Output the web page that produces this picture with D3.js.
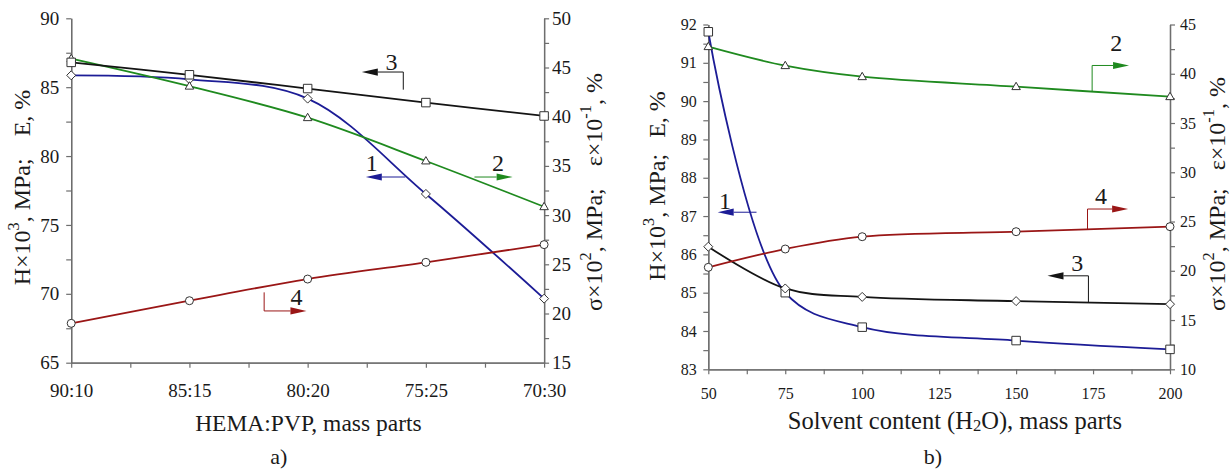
<!DOCTYPE html>
<html><head><meta charset="utf-8">
<script src="https://cdn.jsdelivr.net/npm/d3@7"></script>
<style>
html,body{margin:0;padding:0;background:#fff;}
svg{display:block;}
svg, svg text, svg tspan{font-family:"Liberation Serif","Tinos","Times New Roman","DejaVu Serif",serif !important;}
</style>
</head><body>
<script>
// ---------- DATA ----------
const catsA = ["90:10", "85:15", "80:20", "75:25", "70:30"];
const hardA = [85.86, 85.57, 84.17, 77.25, 69.65];     // curve 1, left axis (H×10³)
const epsA = [45.9, 43.1, 39.9, 35.5, 30.85];          // curve 2, right axis (ε×10⁻¹)
const elastA = [86.8, 85.9, 84.9, 83.88, 82.91];       // curve 3, left axis (E)
const sigmaA = [19.0, 21.3, 23.5, 25.2, 27.0];         // curve 4, right axis (σ×10²)

const solventB = [50, 75, 100, 150, 200];
const hardB = [91.81, 85.0, 84.1, 83.75, 83.52];       // curve 1
const epsB = [42.75, 40.82, 39.7, 38.69, 37.67];       // curve 2
const elastB = [86.2, 85.11, 84.89, 84.78, 84.7];      // curve 3
const sigmaB = [20.35, 22.21, 23.46, 23.97, 24.48];    // curve 4

const yLeftTicksA = [65, 70, 75, 80, 85, 90];
const yRightTicksA = [15, 20, 25, 30, 35, 40, 45, 50];
const yLeftTicksB = [83, 84, 85, 86, 87, 88, 89, 90, 91, 92];
const yRightTicksB = [10, 15, 20, 25, 30, 35, 40, 45];
const xTicksB = [50, 75, 100, 125, 150, 175, 200];

// ---------- STYLE ----------
const C1 = "#1c1c96", C2 = "#1f8a1f", C3 = "#141414", C4 = "#9a1616";
const AXIS = "#6e6e6e", TXT = "#1a1a1a";

const W = 1231, H = 469;
const svg = d3.select("body").append("svg").attr("width", W).attr("height", H)
  .style("background", "#fff");

function rich(sel, parts, fs) {
  let pending = 0;
  parts.forEach(p => {
    const t = sel.append("tspan").text(p.t);
    let dy = pending;
    pending = 0;
    if (p.sup) { t.attr("font-size", fs * 0.68); dy += -fs * 0.38; pending = fs * 0.38; }
    if (p.sub) { t.attr("font-size", fs * 0.68); dy += fs * 0.2; pending = -fs * 0.2; }
    if (dy) t.attr("dy", dy);
    if (p.dx) t.attr("dx", p.dx);
  });
  return sel;
}

function styleAxis(g, fs) {
  g.attr("font-family", null);
  g.select(".domain").attr("stroke", AXIS).attr("stroke-width", 1.3);
  g.selectAll(".tick line").attr("stroke", AXIS).attr("stroke-width", 1.2);
  g.selectAll(".tick text").attr("fill", TXT).attr("font-size", fs);
}

function markers(g, pts, shape, size) {
  const s = size;
  g.selectAll(null).data(pts).enter().append("path")
    .attr("transform", d => `translate(${d[0]},${d[1]})`)
    .attr("d", () => {
      if (shape === "square") return `M${-s/2},${-s/2}h${s}v${s}h${-s}Z`;
      if (shape === "diamond") return `M0,${-s/2}L${s/2},0L0,${s/2}L${-s/2},0Z`;
      if (shape === "triangle") { const h = s * 0.866; return `M0,${-h*0.6}L${s/2},${h*0.4}L${-s/2},${h*0.4}Z`; }
      return d3.symbol(d3.symbolCircle, Math.PI * (s/2) * (s/2))();
    })
    .attr("fill", "#fff").attr("stroke", "#333").attr("stroke-width", 1);
}

function arrow(g, pts, color) {
  const n = pts.length;
  const tip = pts[n-1], prev = pts[n-2];
  const ang = Math.atan2(tip[1]-prev[1], tip[0]-prev[0]);
  const L = 16, hw = 3.6;
  const bx = tip[0] - L*Math.cos(ang), by = tip[1] - L*Math.sin(ang);
  const line = pts.slice(0, n-1).concat([[bx, by]]);
  g.append("path").attr("d", d3.line()(line)).attr("fill", "none").attr("stroke", color).attr("stroke-width", 1);
  const px = -Math.sin(ang)*hw, py = Math.cos(ang)*hw;
  g.append("path").attr("d", `M${tip[0]},${tip[1]}L${bx+px},${by+py}L${bx-px},${by-py}Z`).attr("fill", color);
}

function label(g, x, y, txt, fs) {
  g.append("text").attr("x", x).attr("y", y).attr("text-anchor", "middle")
    .attr("dominant-baseline", "central").attr("font-size", fs).attr("fill", TXT).text(txt);
}

const curve = d3.curveCatmullRom.alpha(0.5);

// ================= PANEL A =================
{
  const g = svg.append("g");
  const x = d3.scaleLinear().domain([0, catsA.length - 1]).range([71.2, 544.1]);
  const yL = d3.scaleLinear().domain([65, 90]).range([362.7, 18.3]);
  const yR = d3.scaleLinear().domain([15, 50]).range([362.7, 18.3]);
  const fs = 19;

  const minorX = d3.range(0.5, catsA.length - 1, 1);
  g.append("g").attr("transform", `translate(0,${362.7})`)
    .call(d3.axisBottom(x).tickValues(minorX).tickFormat("").tickSize(5).tickSizeOuter(0)).call(a => styleAxis(a, fs))
    .selectAll(".tick text").remove();
  g.append("g").attr("transform", `translate(${71.2},0)`)
    .call(d3.axisLeft(yL).tickValues(d3.range(67.5, 90, 5)).tickFormat("").tickSize(5).tickSizeOuter(0)).call(a => styleAxis(a, fs))
    .selectAll(".tick text").remove();
  g.append("g").attr("transform", `translate(${544.1},0)`)
    .call(d3.axisRight(yR).tickValues(d3.range(17.5, 50, 5)).tickFormat("").tickSize(5).tickSizeOuter(0)).call(a => styleAxis(a, fs))
    .selectAll(".tick text").remove();
  g.append("g").attr("transform", `translate(0,${362.7})`)
    .call(d3.axisBottom(x).tickValues(d3.range(catsA.length)).tickFormat(i => catsA[i]).tickSize(5).tickPadding(16).tickSizeOuter(0))
    .call(a => styleAxis(a, fs));
  g.append("g").attr("transform", `translate(${71.2},0)`)
    .call(d3.axisLeft(yL).tickValues(yLeftTicksA).tickSize(5).tickPadding(7).tickSizeOuter(0)).call(a => styleAxis(a, fs));
  g.append("g").attr("transform", `translate(${544.1},0)`)
    .call(d3.axisRight(yR).tickValues(yRightTicksA).tickSize(5).tickPadding(3).tickSizeOuter(0)).call(a => styleAxis(a, fs));

  const series = [
    {v: hardA, y: yL, c: C1, m: "diamond"},
    {v: epsA, y: yR, c: C2, m: "triangle"},
    {v: elastA, y: yL, c: C3, m: "square"},
    {v: sigmaA, y: yR, c: C4, m: "circle"}
  ];
  series.forEach(s => {
    const pts = s.v.map((v, i) => [x(i), s.y(v)]);
    g.append("path").attr("d", d3.line().curve(curve)(pts)).attr("fill", "none").attr("stroke", s.c).attr("stroke-width", 1.8);
  });
  series.forEach(s => {
    const pts = s.v.map((v, i) => [x(i), s.y(v)]);
    markers(g, pts, s.m, s.m === "circle" ? 8 : (s.m === "diamond" ? 9 : 8.5));
  });

  arrow(g, [[x(2.809), yL(84.9 - 0.08)], [x(2.809), yL(86.1)], [x(2.458), yL(86.1)]], C3);
  label(g, x(2.709), yL(86.83), "3", 24);
  arrow(g, [[x(2.826), yL(78.48)], [x(2.492), yL(78.48)]], C1);
  label(g, x(2.542), yL(79.5), "1", 24);
  arrow(g, [[x(3.411), yR(33.87)], [x(3.734), yR(33.87)]], C2);
  label(g, x(3.61), yR(35.3), "2", 24);
  arrow(g, [[x(1.632), yR(22.15)], [x(1.632), yR(20.26)], [x(1.99), yR(20.26)]], C4);
  label(g, x(1.906), yR(21.7), "4", 24);

  const tl = g.append("text").attr("transform", "translate(22,187.5) rotate(-90)").attr("text-anchor", "middle")
    .attr("dominant-baseline", "central").attr("font-size", 24).attr("fill", TXT);
  rich(tl, [{t: "H×10"}, {t: "3", sup: true}, {t: ", MPa;"}, {t: "E, %", dx: 22}], 24);
  const tr = g.append("text").attr("transform", "translate(594,192) rotate(-90)").attr("text-anchor", "middle")
    .attr("dominant-baseline", "central").attr("font-size", 24).attr("fill", TXT);
  rich(tr, [{t: "σ×10"}, {t: "2", sup: true}, {t: ", MPa;"}, {t: "ε×10", dx: 22}, {t: "-1", sup: true}, {t: ", %"}], 24);
  g.append("text").attr("x", 308.4).attr("y", 423).attr("text-anchor", "middle").attr("dominant-baseline", "central")
    .attr("font-size", 23.5).attr("fill", TXT).text("HEMA:PVP, mass parts");
  g.append("text").attr("x", 278.8).attr("y", 456).attr("text-anchor", "middle").attr("dominant-baseline", "central")
    .attr("font-size", 22).attr("fill", TXT).text("a)");
}

// ================= PANEL B =================
{
  const g = svg.append("g");
  const x = d3.scaleLinear().domain([50, 200]).range([708.3, 1170]);
  const yL = d3.scaleLinear().domain([83, 92]).range([369.3, 24.5]);
  const yR = d3.scaleLinear().domain([10, 45]).range([369.3, 24.5]);
  const fs = 16;

  g.append("g").attr("transform", `translate(0,${369.3})`)
    .call(d3.axisBottom(x).tickValues(d3.range(62.5, 200, 25)).tickFormat("").tickSize(5).tickSizeOuter(0)).call(a => styleAxis(a, fs))
    .selectAll(".tick text").remove();
  g.append("g").attr("transform", `translate(${708.3},0)`)
    .call(d3.axisLeft(yL).tickValues(d3.range(83.5, 92, 1)).tickFormat("").tickSize(5).tickSizeOuter(0)).call(a => styleAxis(a, fs))
    .selectAll(".tick text").remove();
  g.append("g").attr("transform", `translate(${1170},0)`)
    .call(d3.axisRight(yR).tickValues(d3.range(12.5, 45, 5)).tickFormat("").tickSize(5).tickSizeOuter(0)).call(a => styleAxis(a, fs))
    .selectAll(".tick text").remove();
  g.append("g").attr("transform", `translate(0,${369.3})`)
    .call(d3.axisBottom(x).tickValues(xTicksB).tickSize(5).tickPadding(13.6).tickSizeOuter(0)).call(a => styleAxis(a, fs));
  g.append("g").attr("transform", `translate(${708.3},0)`)
    .call(d3.axisLeft(yL).tickValues(yLeftTicksB).tickSize(5).tickPadding(6.6).tickSizeOuter(0)).call(a => styleAxis(a, fs));
  g.append("g").attr("transform", `translate(${1170},0)`)
    .call(d3.axisRight(yR).tickValues(yRightTicksB).tickSize(5).tickPadding(5).tickSizeOuter(0)).call(a => styleAxis(a, fs));

  const series = [
    {v: hardB, y: yL, c: C1, m: "square"},
    {v: epsB, y: yR, c: C2, m: "triangle"},
    {v: elastB, y: yL, c: C3, m: "diamond"},
    {v: sigmaB, y: yR, c: C4, m: "circle"}
  ];
  series.forEach(s => {
    const pts = s.v.map((v, i) => [x(solventB[i]), s.y(v)]);
    g.append("path").attr("d", d3.line().curve(curve)(pts)).attr("fill", "none").attr("stroke", s.c).attr("stroke-width", 1.8);
  });
  series.forEach(s => {
    const pts = s.v.map((v, i) => [x(solventB[i]), s.y(v)]);
    markers(g, pts, s.m, s.m === "circle" ? 8 : (s.m === "diamond" ? 9 : 8.5));
  });

  arrow(g, [[x(174.7), yR(38.2)], [x(174.7), yR(40.84)], [x(186.7), yR(40.84)]], C2);
  label(g, x(182.5), yR(43.1), "2", 24);
  arrow(g, [[x(173.2), yR(24.2)], [x(173.2), yR(26.27)], [x(186.4), yR(26.27)]], C4);
  label(g, x(177.6), yR(27.6), "4", 24);
  arrow(g, [[x(65.66), yL(87.1)], [x(53.05), yL(87.1)]], C1);
  label(g, x(55.4), yL(87.4), "1", 24);
  arrow(g, [[x(173.5), yL(84.74)], [x(173.5), yL(85.44)], [x(160.2), yL(85.44)]], C3);
  label(g, x(169.9), yL(85.77), "3", 24);

  const tl = g.append("text").attr("transform", "translate(657,186) rotate(-90)").attr("text-anchor", "middle")
    .attr("dominant-baseline", "central").attr("font-size", 24).attr("fill", TXT);
  rich(tl, [{t: "H×10"}, {t: "3", sup: true}, {t: ", MPa;"}, {t: "E, %", dx: 16}], 24);
  const tr = g.append("text").attr("transform", "translate(1217,194) rotate(-90)").attr("text-anchor", "middle")
    .attr("dominant-baseline", "central").attr("font-size", 24).attr("fill", TXT);
  rich(tr, [{t: "σ×10"}, {t: "2", sup: true}, {t: ", MPa;"}, {t: "ε×10", dx: 18}, {t: "-1", sup: true}, {t: ", %"}], 24);
  const xt = g.append("text").attr("x", 955).attr("y", 420).attr("text-anchor", "middle").attr("dominant-baseline", "central")
    .attr("font-size", 24.5).attr("fill", TXT);
  rich(xt, [{t: "Solvent content (H"}, {t: "2", sub: true}, {t: "O), mass parts"}], 24.5);
  g.append("text").attr("x", 932.8).attr("y", 456).attr("text-anchor", "middle").attr("dominant-baseline", "central")
    .attr("font-size", 22).attr("fill", TXT).text("b)");
}
</script>
</body></html>
